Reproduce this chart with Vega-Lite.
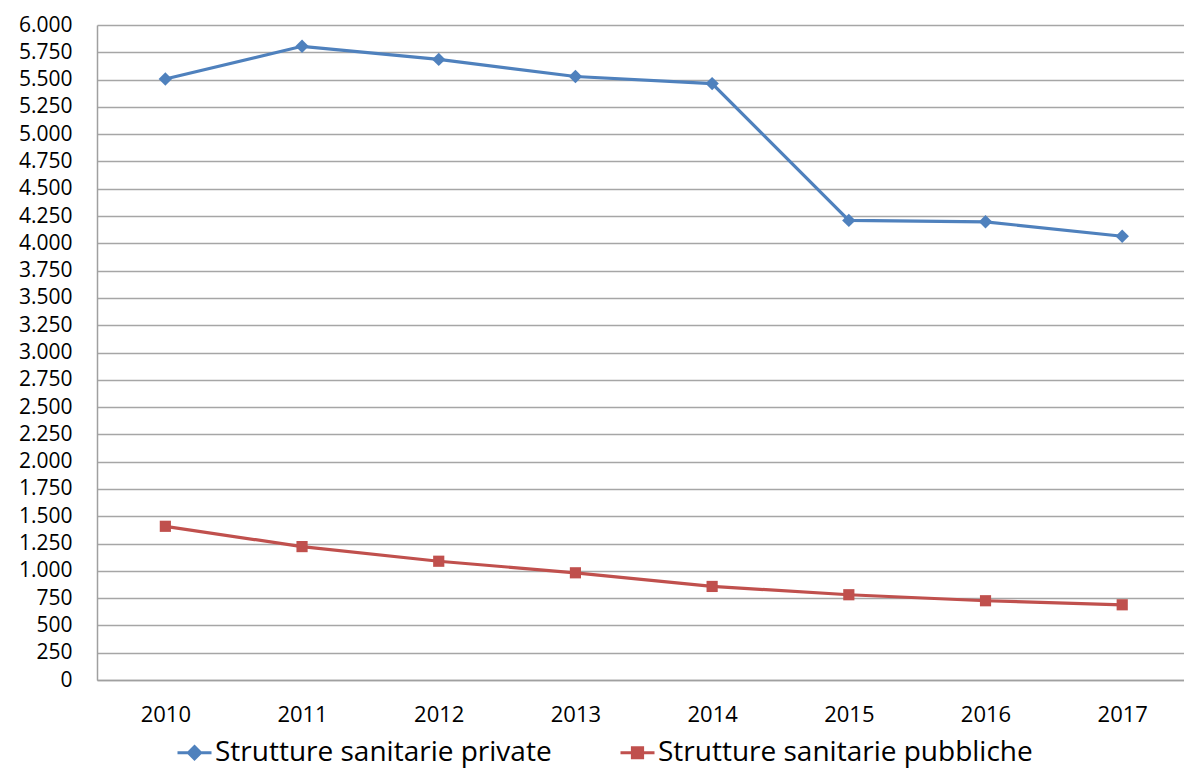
{
  "$schema": "https://vega.github.io/schema/vega-lite/v6.json",
  "width": 1087,
  "height": 655,
  "autosize": {"type": "none"},
  "padding": {"left": 97, "top": 25, "right": 0, "bottom": 91},
  "background": "white",
  "config": {"font": "Open Sans", "view": {"stroke": null}},
  "data": {
    "values": [
      {"year": 2010, "series": "Strutture sanitarie private", "value": 5505},
      {"year": 2011, "series": "Strutture sanitarie private", "value": 5805},
      {"year": 2012, "series": "Strutture sanitarie private", "value": 5685},
      {"year": 2013, "series": "Strutture sanitarie private", "value": 5528},
      {"year": 2014, "series": "Strutture sanitarie private", "value": 5463},
      {"year": 2015, "series": "Strutture sanitarie private", "value": 4210},
      {"year": 2016, "series": "Strutture sanitarie private", "value": 4197},
      {"year": 2017, "series": "Strutture sanitarie private", "value": 4065},
      {"year": 2010, "series": "Strutture sanitarie pubbliche", "value": 1408},
      {"year": 2011, "series": "Strutture sanitarie pubbliche", "value": 1222},
      {"year": 2012, "series": "Strutture sanitarie pubbliche", "value": 1088},
      {"year": 2013, "series": "Strutture sanitarie pubbliche", "value": 982},
      {"year": 2014, "series": "Strutture sanitarie pubbliche", "value": 857},
      {"year": 2015, "series": "Strutture sanitarie pubbliche", "value": 781},
      {"year": 2016, "series": "Strutture sanitarie pubbliche", "value": 726},
      {"year": 2017, "series": "Strutture sanitarie pubbliche", "value": 689}
    ]
  },
  "encoding": {
    "x": {
      "field": "year",
      "type": "quantitative",
      "scale": {"domain": [2009.5, 2017.452], "nice": false, "zero": false},
      "axis": {
        "values": [2010, 2011, 2012, 2013, 2014, 2015, 2016, 2017],
        "format": "d",
        "grid": false,
        "ticks": false,
        "tickSize": 0,
        "domainColor": "#a0a0a0",
        "domainWidth": 1.5,
        "labelFont": "Open Sans",
        "labelFontSize": 22,
        "labelColor": "black",
        "labelPadding": 24,
        "labelFlush": false,
        "labelOverlap": false,
        "title": null
      }
    },
    "y": {
      "field": "value",
      "type": "quantitative",
      "scale": {"domain": [0, 6000], "nice": false},
      "axis": {
        "values": [0, 250, 500, 750, 1000, 1250, 1500, 1750, 2000, 2250, 2500, 2750, 3000, 3250, 3500, 3750, 4000, 4250, 4500, 4750, 5000, 5250, 5500, 5750, 6000],
        "labelExpr": "replace(format(datum.value, ','), ',', '.')",
        "grid": true,
        "gridColor": "#a6a6a6",
        "gridWidth": 1.5,
        "ticks": false,
        "tickSize": 0,
        "domainColor": "#a0a0a0",
        "domainWidth": 1.5,
        "labelFont": "Open Sans",
        "labelFontSize": 21,
        "labelColor": "black",
        "labelPadding": 25,
        "labelOverlap": false,
        "labelBound": false,
        "title": null
      }
    }
  },
  "layer": [
    {
      "mark": {"type": "point", "filled": true, "opacity": 0},
      "encoding": {
        "color": {
          "field": "series",
          "type": "nominal",
          "scale": {"domain": ["Strutture sanitarie private", "Strutture sanitarie pubbliche"], "range": ["#4F81BD", "#C0504D"]},
          "legend": {
            "orient": "none",
            "legendX": 79,
            "legendY": 709,
            "direction": "horizontal",
            "title": null,
            "labelFont": "Open Sans",
            "labelFontSize": 28,
            "labelColor": "black",
            "labelLimit": 600,
            "labelOffset": 2,
            "symbolSize": 1156,
            "symbolStrokeWidth": 3,
            "symbolOpacity": 1,
            "columnPadding": 62,
            "encode": {
              "symbols": {
                "update": {
                  "fill": {"scale": "color", "field": "value"},
                  "fillOpacity": {"value": 1},
                  "stroke": {"scale": "color", "field": "value"},
                  "strokeWidth": {"value": 3}
                }
              }
            }
          }
        },
        "stroke": {
          "field": "series",
          "type": "nominal",
          "scale": {"domain": ["Strutture sanitarie private", "Strutture sanitarie pubbliche"], "range": ["#4F81BD", "#C0504D"]},
          "legend": {"title": null}
        },
        "shape": {
          "field": "series",
          "type": "nominal",
          "scale": {"domain": ["Strutture sanitarie private", "Strutture sanitarie pubbliche"], "range": ["M-1,0H1M0,-0.36L0.36,0L0,0.36L-0.36,0Z", "M-1,0H1M-0.3,-0.3H0.3V0.3H-0.3Z"]},
          "legend": {"title": null}
        }
      }
    },
    {
      "mark": {"type": "line", "strokeWidth": 3.2},
      "encoding": {
        "color": {
          "field": "series",
          "type": "nominal",
          "scale": {"domain": ["Strutture sanitarie private", "Strutture sanitarie pubbliche"], "range": ["#4F81BD", "#C0504D"]}
        }
      }
    },
    {
      "transform": [{"filter": "datum.series === 'Strutture sanitarie private'"}],
      "mark": {"type": "point", "shape": "diamond", "filled": true, "size": 180, "opacity": 1, "color": "#4F81BD"}
    },
    {
      "transform": [{"filter": "datum.series === 'Strutture sanitarie pubbliche'"}],
      "mark": {"type": "point", "shape": "square", "filled": true, "size": 125, "opacity": 1, "color": "#C0504D"}
    }
  ]
}
